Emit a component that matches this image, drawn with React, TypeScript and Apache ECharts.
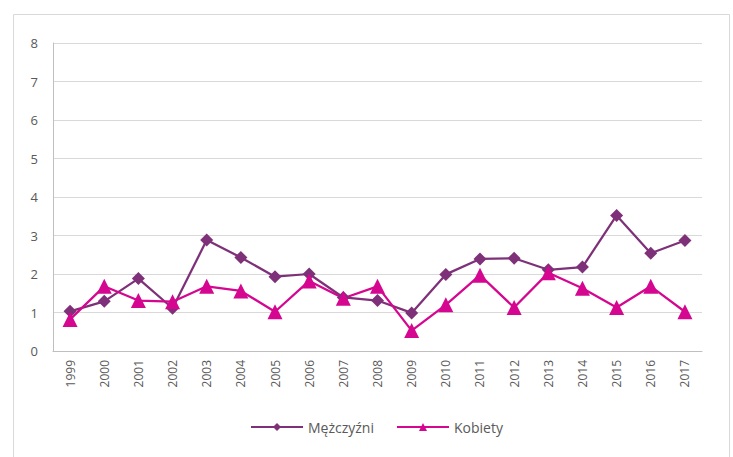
import React, { useEffect, useRef } from "react";
import * as echarts from "echarts";

const years = ["1999","2000","2001","2002","2003","2004","2005","2006","2007","2008","2009","2010","2011","2012","2013","2014","2015","2016","2017"];
const men = [1.03,1.29,1.88,1.11,2.88,2.43,1.93,2.0,1.39,1.31,0.99,1.99,2.39,2.41,2.11,2.18,3.52,2.54,2.87];
const women = [0.82,1.68,1.31,1.28,1.68,1.56,1.02,1.82,1.37,1.68,0.53,1.2,1.97,1.13,2.03,1.63,1.13,1.68,1.02];
const yTicks = [0, 8, 1];

const font = "'Open Sans', 'Liberation Sans', sans-serif";

export default function App() {
  const ref = useRef<HTMLDivElement>(null);
  useEffect(() => {
    if (!ref.current) return;
    const chart = echarts.init(ref.current, null, { renderer: "svg" });
    chart.setOption({
      animation: false,
      backgroundColor: "#fff",
      graphic: [
        { type: "rect", shape: { x: 13.5, y: 14.5, width: 716, height: 460 }, style: { fill: "none", stroke: "#D9D9D9", lineWidth: 1 }, silent: true },
      ],
      grid: { left: 53, right: 31, top: 43, bottom: 106, containLabel: false },
      legend: {
        bottom: 18,
        left: 245,
        itemWidth: 52,
        itemHeight: 10,
        itemGap: 22,
        textStyle: { color: "#595959", fontSize: 14, fontFamily: font },
        data: ["Mężczyźni", "Kobiety"],
      },
      xAxis: {
        type: "category",
        data: years,
        boundaryGap: true,
        axisLine: { lineStyle: { color: "#BFBFBF" } },
        axisTick: { show: false },
        axisLabel: { rotate: 90, color: "#595959", fontSize: 12, fontFamily: font, margin: 9 },
      },
      yAxis: {
        type: "value",
        min: yTicks[0],
        max: yTicks[1],
        interval: yTicks[2],
        axisLine: { show: true, lineStyle: { color: "#BFBFBF" } },
        axisTick: { show: false },
        axisLabel: { color: "#595959", fontSize: 13, fontFamily: font, margin: 15 },
        splitLine: { lineStyle: { color: "#D9D9D9", width: 1 } },
      },
      series: [
        {
          name: "Mężczyźni",
          type: "line",
          data: men,
          symbol: "diamond",
          symbolSize: 13,
          lineStyle: { color: "#7E3179", width: 2.25 },
          itemStyle: { color: "#7E3179" },
        },
        {
          name: "Kobiety",
          type: "line",
          data: women,
          symbol: "triangle",
          symbolSize: 15,
          lineStyle: { color: "#D5068F", width: 2.25 },
          itemStyle: { color: "#D5068F" },
        },
      ],
    });
    return () => chart.dispose();
  }, []);
  return <div ref={ref} style={{ width: 733, height: 457, position: "absolute", left: 0, top: 0 }} />;
}
